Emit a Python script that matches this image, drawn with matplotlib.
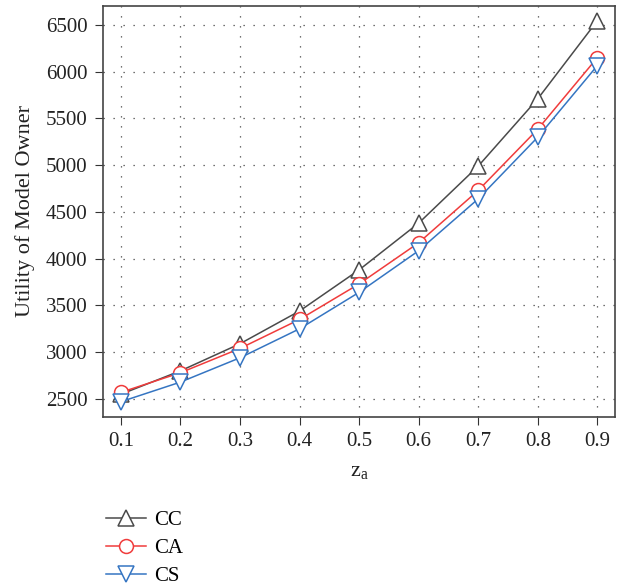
import matplotlib
matplotlib.use('Agg')
import matplotlib.pyplot as plt

# data
z_a = [0.1, 0.2, 0.3, 0.4, 0.5, 0.6, 0.7, 0.8, 0.9]
cc = [2550, 2800, 3090, 3440, 3880, 4380, 4990, 5710, 6545]
ca = [2570, 2780, 3040, 3350, 3730, 4170, 4730, 5385, 6150]
cs = [2470, 2680, 2940, 3250, 3640, 4085, 4640, 5300, 6065]

yticks = [2500, 3000, 3500, 4000, 4500, 5000, 5500, 6000, 6500]

plt.rcParams['font.family'] = ['Liberation Serif', 'DejaVu Serif']
plt.rcParams['mathtext.default'] = 'regular'

fig = plt.figure(figsize=(6.24, 5.88), dpi=100)
ax = fig.add_axes([0.165, 0.291, 0.821, 0.699])

ax.plot(z_a, cc, color='#4a4a4a', lw=1.1, marker='^', ms=12, mfc='white', mew=1.1, label='CC')
ax.plot(z_a, ca, color='#f03c3c', lw=1.1, marker='o', ms=10, mfc='white', mew=1.1, label='CA')
ax.plot(z_a, cs, color='#3575c2', lw=1.1, marker='v', ms=12, mfc='white', mew=1.1, label='CS')

ax.set_xlim(0.07, 0.93)
ax.set_ylim(2308, 6703)
ax.set_xticks(z_a)
ax.set_xticklabels([f'{v:.1f}' for v in z_a])
ax.set_yticks(yticks)
ax.grid(True, linestyle=(0, (1, 7)), color='#444444', lw=0.9)
ax.tick_params(direction='out', length=6, pad=5, labelsize=15, colors='#333333', labelcolor='#222222')
for s in ax.spines.values():
    s.set_color('#444444')
    s.set_linewidth(1.2)

ax.set_ylabel('Utility of Model Owner', fontsize=16, color='#222222', labelpad=8)
ax.set_xlabel('$z_a$', fontsize=16, color='#222222', labelpad=8)

fig.legend(loc='upper left', bbox_to_anchor=(0.14, 0.163), frameon=False,
           fontsize=15, handlelength=1.9, labelspacing=0.4, handletextpad=0.4)

fig.savefig('out.png', dpi=100)
